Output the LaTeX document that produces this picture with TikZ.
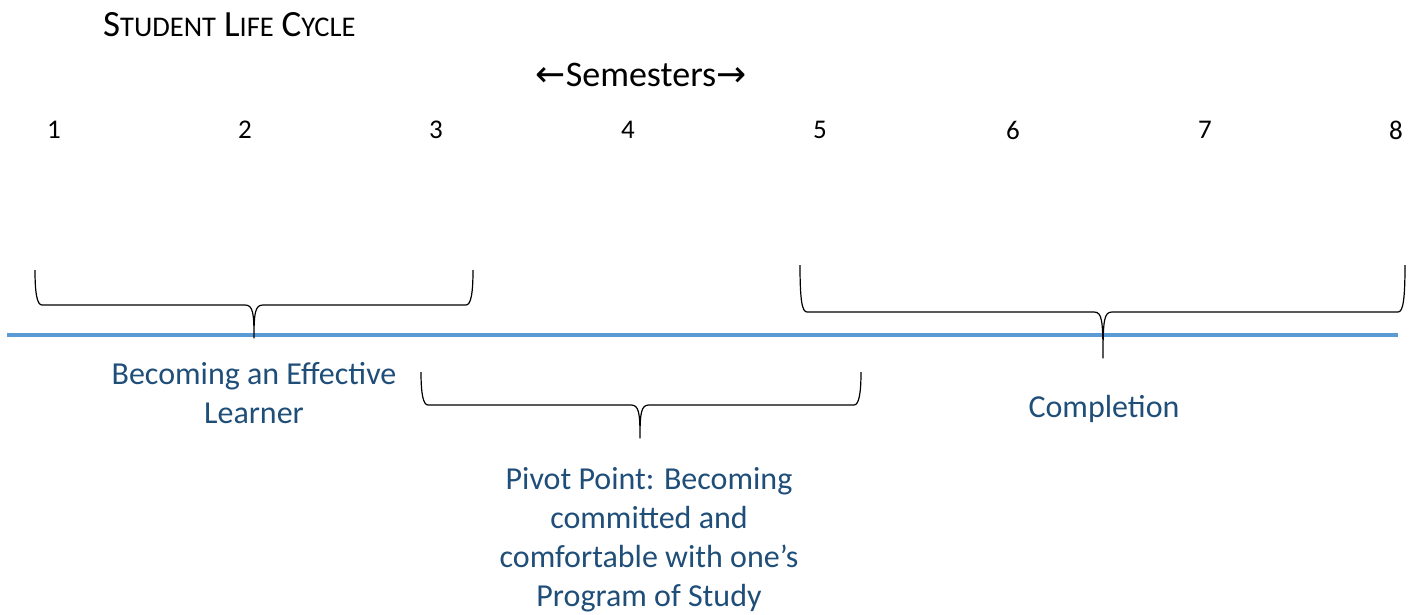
\documentclass[tikz,border=0pt]{standalone}
\usepackage{fontspec}
\setmainfont{Carlito}
\newfontfamily\arrowfont{DejaVu Sans}
\definecolor{timeline}{HTML}{5B9BD5}
\definecolor{phasetext}{HTML}{1F4E79}
% one word in small capitals
\newcommand{\capsword}[2]{{\fontsize{37}{40}\selectfont #1}{\fontsize{28.5}{40}\selectfont #2}}
% left, right, middle, top, bottom, tip
\newcommand{\phasebrace}[6]{%
  \draw[brace] (#1,#4) .. controls (#1,#5-12) and (#1+2,#5) .. (#1+7,#5) -- (#3-9,#5)
    .. controls (#3-1,#5) and (#3,#5+8) .. (#3,#6)
    .. controls (#3,#5+8) and (#3+1,#5) .. (#3+9,#5) -- (#2-7,#5)
    .. controls (#2-2,#5) and (#2,#5-12) .. (#2,#4);}
\tikzset{
  phase/.style={text=phasetext, align=center, font=\fontsize{32}{39}\selectfont, inner sep=0pt},
  semnum/.style={font=\fontsize{27}{30}\selectfont, inner sep=0pt},
  brace/.style={line width=1.2pt, line join=round}
}
\begin{document}
\begin{tikzpicture}[x=1pt,y=-1pt]
  \useasboundingbox (0,0) rectangle (1413,614);

  \node[anchor=west, inner sep=0pt, font=\fontsize{35}{40}\selectfont] (title) at (103,25)
    {\capsword{S}{TUDENT} \capsword{L}{IFE} \capsword{C}{YCLE}};
  \node[inner sep=0pt, font=\fontsize{36}{40}\selectfont] (semesters) at (641,75)
    {{\arrowfont ←}Semesters{\arrowfont →}};

  \foreach \n/\x in {1/54,2/245,3/436,4/628,5/820,6/1013,7/1205,8/1396}
    \node[semnum] (sem\n) at (\x,130) {\n};

  % time line
  \draw[timeline, line width=4pt] (7,335) -- (1398,335);

  % phases
  \phasebrace{35}{473}{254}{270}{305}{338}
  \phasebrace{421}{861}{640}{372}{405}{438}
  \phasebrace{800}{1405}{1103}{265}{312}{358}

  \node[phase] (learner) at (254,393) {Becoming an Effective\\Learner};
  \node[phase] (pivot) at (649,540)
    {Pivot Point: Becoming\\committed and\\comfortable with one’s\\Program of Study};
  \node[phase] (completion) at (1104,409) {Completion};
\end{tikzpicture}
\end{document}
